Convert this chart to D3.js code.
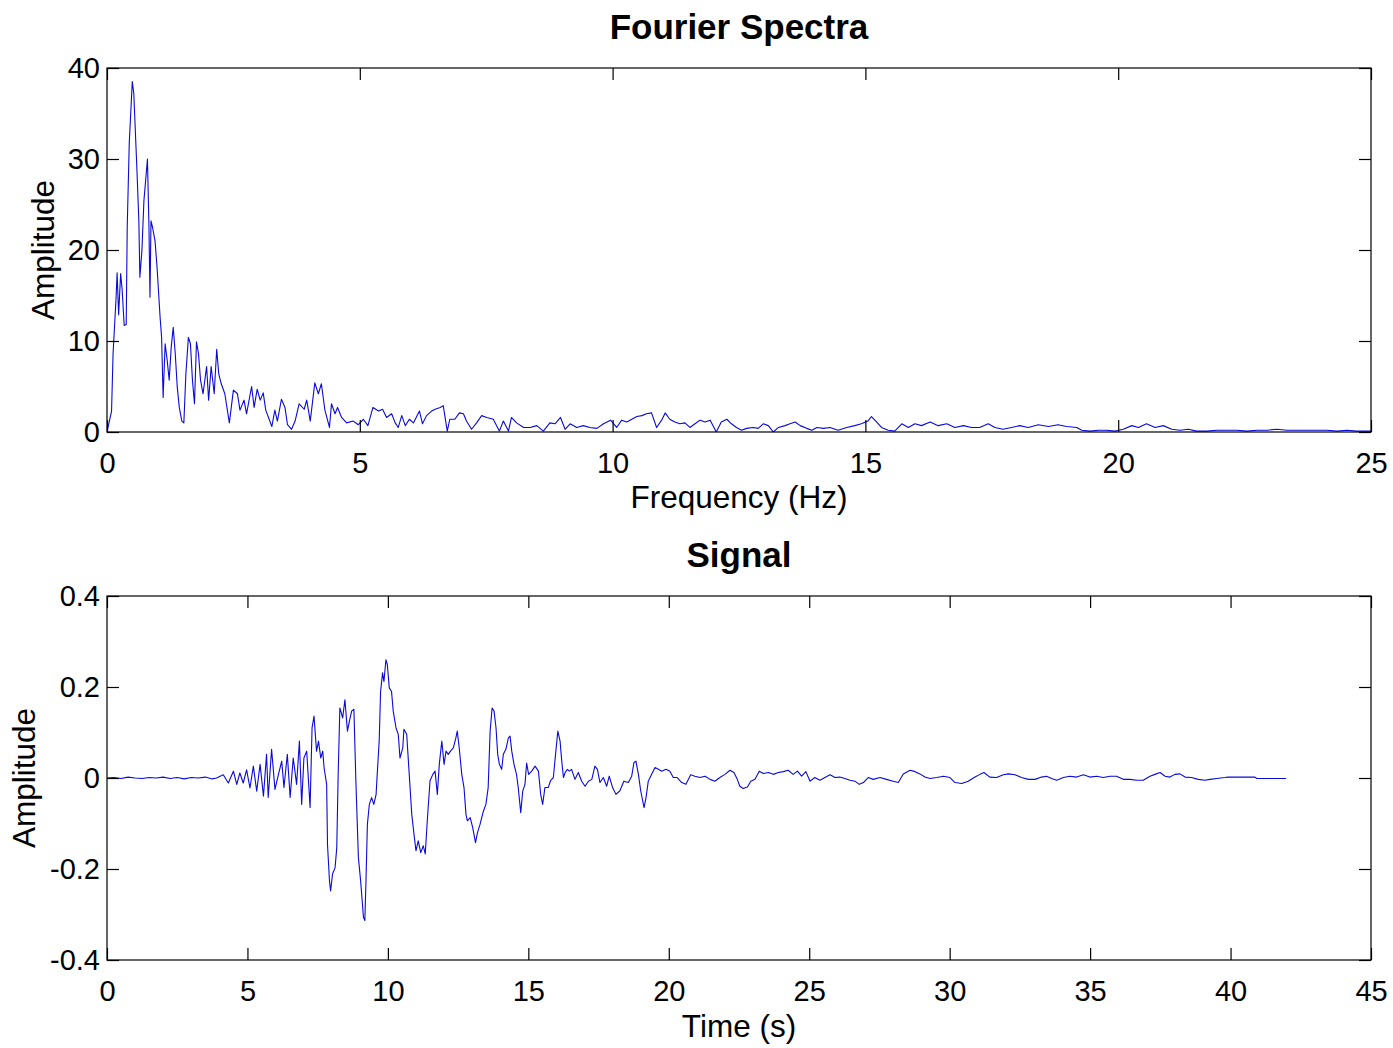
<!DOCTYPE html>
<html>
<head>
<meta charset="utf-8">
<script src="https://cdn.jsdelivr.net/npm/d3@7"></script>
<style>
  html, body { margin: 0; padding: 0; background: #fff; }
  svg { display: block; }
  text { font-family: "Liberation Sans", Arial, Helvetica, sans-serif; fill: #000; }
</style>
</head>
<body>
<svg id="chart" width="1393" height="1048"></svg>
<script>
// ---------- Data: Fourier spectrum ----------
const specFreq = [
  0, 0.09, 0.12, 0.18, 0.2, 0.23, 0.27, 0.3, 0.34, 0.38, 0.4, 0.44, 0.5, 0.53, 0.59, 0.63, 0.65, 0.69, 0.73, 0.8,
  0.83, 0.85, 0.87, 0.9, 0.95, 0.99, 1.05, 1.08, 1.11, 1.15, 1.19, 1.23, 1.27, 1.31, 1.35, 1.39, 1.43, 1.48, 1.52, 1.56,
  1.61, 1.65, 1.69, 1.73, 1.77, 1.81, 1.85, 1.9, 1.97, 2.01, 2.06, 2.12, 2.17, 2.21, 2.26, 2.33, 2.42, 2.5, 2.58, 2.63,
  2.71, 2.76, 2.86, 2.91, 2.97, 3.03, 3.09, 3.14, 3.26, 3.32, 3.37, 3.45, 3.52, 3.57, 3.65, 3.72, 3.8, 3.9, 3.95, 4.02,
  4.11, 4.18, 4.24, 4.31, 4.4, 4.44, 4.51, 4.56, 4.64, 4.74, 4.87, 4.97,
  5.07, 5.16, 5.26, 5.37, 5.45, 5.53, 5.63, 5.7, 5.76, 5.83, 5.9, 5.98, 6.06, 6.18, 6.24, 6.32, 6.42, 6.49, 6.59, 6.65,
  6.73, 6.78, 6.88, 6.97, 7.05, 7.11, 7.21, 7.31, 7.41, 7.51, 7.64, 7.76, 7.84, 7.94, 8.0, 8.1, 8.24, 8.37, 8.5, 8.63,
  8.76, 8.86, 8.97, 9.06, 9.16, 9.29, 9.42, 9.55, 9.69, 9.82, 9.96, 10.08, 10.18, 10.28, 10.38, 10.48, 10.58, 10.67, 10.77, 10.87,
  10.97, 11.04, 11.13, 11.23, 11.33, 11.43, 11.53, 11.63, 11.73, 11.83, 11.93, 12.05, 12.15, 12.26, 12.35, 12.45, 12.55, 12.65, 12.78, 12.88,
  12.98, 13.08, 13.18, 13.28, 13.41, 13.51, 13.61, 13.71, 13.84, 13.94, 14.04, 14.17, 14.3, 14.46, 14.63, 14.79, 14.92, 15.05, 15.12, 15.22,
  15.32, 15.45, 15.58, 15.72, 15.85, 15.98, 16.11, 16.28, 16.44, 16.61, 16.77, 16.94, 17.1, 17.26, 17.43, 17.56, 17.72, 17.89, 18.05, 18.22,
  18.42, 18.62, 18.81, 18.98, 19.18, 19.28, 19.44, 19.61, 19.77, 19.94, 20.1, 20.27, 20.4, 20.56, 20.73, 20.89, 21.06, 21.22, 21.39, 21.55,
  21.75, 21.95, 22.15, 22.35, 22.55, 22.74, 22.94, 23.14, 23.34, 23.53, 23.73, 23.93, 24.13, 24.33, 24.52, 24.72, 24.94, 25.0
];
const specAmp = [
  0, 2.3, 8.6, 14.8, 17.5, 12.9, 17.4, 15.6, 11.7, 11.8, 22.5, 31.7, 38.5, 37.2, 29.1, 23.2, 17.0, 19.9, 25.4, 30.0,
  22.5, 14.8, 23.2, 22.5, 21.0, 18.1, 12.6, 10.4, 3.8, 9.7, 7.9, 5.7, 9.3, 11.5, 8.6, 4.9, 2.7, 1.2, 1.0, 6.4,
  10.4, 9.7, 5.7, 3.1, 9.9, 8.6, 5.7, 4.2, 7.2, 3.5, 7.2, 4.2, 9.1, 6.4, 5.3, 4.2, 1.0, 4.6, 4.2, 2.4,
  3.5, 2.0, 5.0, 2.7, 4.7, 3.5, 4.3, 2.4, 0.6, 2.4, 1.2, 3.6, 2.7, 0.8, 0.3, 1.2, 3.1, 2.5, 3.5, 1.2,
  5.4, 4.2, 5.3, 2.4, 0.5, 3.1, 2.0, 2.7, 1.6, 1.0, 1.2, 0.8,
  1.4, 0.7, 2.7, 2.3, 2.5, 1.6, 2.0, 1.0, 0.5, 1.8, 0.7, 1.4, 1.0, 2.3, 0.9, 1.8, 2.3, 2.5, 2.7, 2.9,
  0.1, 1.4, 1.4, 2.1, 2.0, 1.2, 0.3, 1.0, 1.8, 1.6, 1.4, 0.1, 1.2, 0.1, 1.6, 1.0, 0.5, 0.5, 0.7, 0.1,
  1.0, 0.9, 1.6, 0.3, 0.9, 0.5, 0.7, 0.5, 0.4, 0.9, 1.3, 0.5, 1.3, 1.1, 1.4, 1.7, 1.8, 2.0, 2.1, 0.5,
  1.3, 2.1, 1.4, 1.1, 0.9, 1.0, 0.5, 0.9, 1.3, 1.1, 1.3, 0.0, 1.1, 1.4, 0.9, 0.5, 0.2, 0.4, 0.5, 0.4,
  0.9, 0.7, 0.0, 0.5, 0.7, 0.9, 1.1, 0.7, 0.4, 0.2, 0.5, 0.4, 0.5, 0.2, 0.5, 0.7, 0.9, 1.2, 1.7, 1.1,
  0.5, 0.2, 0.1, 0.9, 0.5, 0.9, 0.7, 1.1, 0.7, 0.9, 0.5, 0.7, 0.5, 0.5, 0.9, 0.5, 0.3, 0.5, 0.7, 0.5,
  0.8, 0.6, 0.8, 0.6, 0.5, 0.2, 0.1, 0.2, 0.2, 0.1, 0.3, 0.7, 0.5, 0.9, 0.5, 0.7, 0.3, 0.2, 0.3, 0.1,
  0.1, 0.2, 0.2, 0.2, 0.1, 0.2, 0.2, 0.3, 0.2, 0.2, 0.2, 0.2, 0.2, 0.1, 0.2, 0.1, 0.1, 0.1
];

// ---------- Data: time signal ----------
const sigTime = [
  0, 0.25, 0.5, 0.75, 1.0, 1.25, 1.5, 1.75, 2.0, 2.25, 2.5, 2.75, 3.0, 3.25, 3.5, 3.75, 3.9,
  4.14, 4.32, 4.5, 4.62, 4.73, 4.85, 4.97, 5.09, 5.21, 5.33, 5.45, 5.57, 5.68, 5.74, 5.86, 5.98, 6.1, 6.22, 6.3,
  6.42, 6.52, 6.63, 6.75, 6.85, 6.93, 7.01, 7.11, 7.23, 7.3, 7.37, 7.46, 7.53, 7.61, 7.68, 7.73, 7.82, 7.85, 7.92, 7.96,
  8.03, 8.12, 8.18, 8.23, 8.29, 8.39, 8.47, 8.56, 8.63, 8.71, 8.79, 8.86, 8.95, 9.03, 9.13, 9.18, 9.22, 9.27, 9.34, 9.42,
  9.5, 9.58, 9.62, 9.69, 9.74, 9.81, 9.86, 9.93, 9.98, 10.05, 10.13, 10.19, 10.29, 10.37, 10.43, 10.53, 10.57, 10.67, 10.76, 10.85,
  10.93, 11.0, 11.08, 11.17, 11.26, 11.33, 11.41, 11.5, 11.6, 11.68, 11.76, 11.83, 11.92, 12.0, 12.07, 12.15, 12.23, 12.33, 12.42, 12.47,
  12.54, 12.63, 12.71, 12.78, 12.83, 12.93, 13.02, 13.12, 13.19, 13.28, 13.4, 13.49, 13.57, 13.64, 13.71, 13.78, 13.85, 13.91, 13.97, 14.05,
  14.11, 14.2, 14.29, 14.35, 14.41, 14.49, 14.58, 14.64, 14.73, 14.8, 14.88, 14.94, 15.01, 15.12, 15.24, 15.36, 15.44, 15.51, 15.59, 15.71,
  15.79, 15.89, 15.98, 16.05, 16.13, 16.19, 16.25, 16.31, 16.39, 16.46,
  16.54, 16.66, 16.78, 16.9, 17.02, 17.14, 17.26, 17.37, 17.46, 17.55, 17.67, 17.79, 17.88, 18.0, 18.12, 18.26, 18.4, 18.56, 18.68, 18.76,
  18.83, 18.92, 19.0, 19.12, 19.19, 19.27, 19.39, 19.51, 19.63, 19.75, 19.9, 20.04, 20.16, 20.3, 20.46, 20.61, 20.78, 20.93, 21.11, 21.29,
  21.47, 21.64, 21.82, 22.0, 22.18, 22.32, 22.44, 22.53, 22.65, 22.8, 22.92, 23.07, 23.22, 23.37, 23.55, 23.72, 23.9, 24.08, 24.25, 24.43,
  24.58, 24.73, 24.88, 25.03, 25.2, 25.38, 25.56, 25.74, 25.92, 26.09, 26.27, 26.45, 26.63, 26.78,
  26.93, 27.1, 27.28, 27.52, 27.75, 27.99, 28.17, 28.35, 28.59, 28.77, 28.94, 29.12, 29.3, 29.54, 29.78, 30.01, 30.19, 30.43, 30.66, 30.9,
  31.08, 31.22, 31.43, 31.67, 31.91, 32.09, 32.33, 32.56, 32.8, 33.04, 33.27, 33.45, 33.63, 33.81, 34.05, 34.28, 34.52, 34.76, 34.99, 35.23,
  35.47, 35.71, 35.94, 36.18, 36.42, 36.66, 36.89, 37.13, 37.31, 37.49, 37.67, 37.84, 38.02, 38.2, 38.38, 38.61, 38.85, 39.09, 39.27, 39.5,
  39.8, 39.92, 40.87, 40.93, 41.98
];
const sigAmp = [
  0, 0.001, -0.001, 0.002, 0, -0.001, 0.001, 0, 0.002, -0.001, 0.001, -0.002, 0.001, 0, 0.002, -0.002, 0,
  0.007, -0.011, 0.015, -0.014, 0.011, -0.011, 0.018, -0.022, 0.026, -0.029, 0.03, -0.04, 0.052, -0.043, 0.063, -0.025, 0.007, 0.037, -0.021,
  0.052, -0.043, 0.044, -0.014, 0.081, -0.058, 0.044, 0.059, -0.065, 0.11, 0.136, 0.059, 0.081, 0.044, 0.059, 0.022, -0.014, -0.146, -0.226, -0.248,
  -0.211, -0.197, -0.153, 0.008, 0.154, 0.132, 0.172, 0.103, 0.125, 0.147, 0.151, -0.006, -0.175, -0.226, -0.306, -0.313, -0.226, -0.102, -0.058, -0.043,
  -0.058, -0.036, 0.008, 0.081, 0.19, 0.231, 0.212, 0.26, 0.249, 0.198, 0.19, 0.147, 0.11, 0.096, 0.044, 0.066, 0.107, 0.096, 0.008, -0.08,
  -0.124, -0.16, -0.138, -0.164, -0.149, -0.167, -0.087, -0.006, 0.008, 0.015, -0.036, 0.03, 0.081, 0.03, 0.059, 0.052, 0.059, 0.066, 0.088, 0.103,
  0.066, 0.008, -0.021, -0.08, -0.094, -0.087, -0.109, -0.142, -0.12, -0.102, -0.073, -0.058, -0.021, 0.103, 0.154, 0.147, 0.11, 0.052, 0.03, 0.019,
  0.052, 0.063, 0.088, 0.092, 0.059, 0.03, 0.008, -0.021, -0.076, -0.029, -0.014, 0.033, 0.008, 0.015, 0.026, 0.015, -0.036, -0.058, -0.021, -0.021,
  -0.006, 0.001, 0.059, 0.103, 0.081, 0.037, 0.001, 0.012, 0.019, 0.015,
  0.019, -0.003, 0.012, -0.007, -0.018, -0.007, -0.003, 0.026, 0.019, -0.01, 0.001, -0.018, 0.004, -0.021, -0.036, -0.028, -0.007, -0.01, 0.004, 0.034,
  0.037, 0.008, -0.028, -0.065, -0.043, -0.007, 0.008, 0.023, 0.019, 0.015, 0.019, 0.015, 0.001, 0.001, -0.01, -0.014, 0.007, 0.004, 0.001, 0.004,
  -0.003, -0.007, 0.001, 0.008, 0.017, 0.012, -0.003, -0.018, -0.023, -0.02, -0.007, -0.003, 0.015, 0.01, 0.012, 0.008, 0.012, 0.014, 0.017, 0.008,
  0.015, 0.004, 0.014, -0.007, 0.001, -0.005, 0.001, 0.007, 0.001, 0.002, -0.001, -0.005, -0.007, -0.014,
  -0.01, 0.001, -0.003, 0.001, -0.003, -0.007, -0.01, 0.009, 0.017, 0.014, 0.009, 0.002, -0.001, 0.001, 0.004, 0.001, -0.01, -0.012, -0.007, 0.002,
  0.008, 0.012, 0.002, 0.001, 0.007, 0.009, 0.007, 0.001, -0.003, -0.003, 0.002, 0.004, -0.001, -0.005, 0.001, 0.004, 0.002, 0.007, 0.002, 0.004,
  0.001, 0.004, 0.004, -0.003, -0.003, -0.005, -0.005, 0.004, 0.008, 0.012, 0.004, 0.002, 0.008, 0.009, 0.002, 0.001, -0.003, -0.005, -0.003, -0.001,
  0.001, 0.002, 0.002, -0.001, -0.001
];

// ---------- Tick labels ----------
const specXTicks = [0, 5, 10, 15, 20, 25];
const specYTicks = [0, 10, 20, 30, 40];
const sigXTicks = [0, 5, 10, 15, 20, 25, 30, 35, 40, 45];
const sigYTicks = [-0.4, -0.2, 0, 0.2, 0.4];
const sigYLabels = ["-0.4", "-0.2", "0", "0.2", "0.4"];

const svg = d3.select("#chart");
const LINE = "#0a0ad8";
const TICK_FS = 29, LABEL_FS = 31.5, TITLE_FS = 35;

function panel(cfg) {
  const g = svg.append("g");
  const x = d3.scaleLinear().domain(cfg.xDomain).range([cfg.left, cfg.right]);
  const y = d3.scaleLinear().domain(cfg.yDomain).range([cfg.bottom, cfg.top]);
  const tl = 12;

  const clipId = "clip" + cfg.id;
  svg.append("clipPath").attr("id", clipId).append("rect")
    .attr("x", cfg.left).attr("y", cfg.top)
    .attr("width", cfg.right - cfg.left).attr("height", cfg.bottom - cfg.top);
  const pts = cfg.xs.map((v, i) => [v, cfg.ys[i]]);
  g.append("path")
    .attr("clip-path", `url(#${clipId})`)
    .attr("d", d3.line().x(d => x(d[0])).y(d => y(d[1]))(pts))
    .attr("fill", "none").attr("stroke", LINE).attr("stroke-width", 1.1)
    .attr("stroke-linejoin", "round");

  g.append("rect").attr("x", cfg.left).attr("y", cfg.top)
    .attr("width", cfg.right - cfg.left).attr("height", cfg.bottom - cfg.top)
    .attr("fill", "none").attr("stroke", "#000").attr("stroke-width", 1.2);

  const xb = g.append("g").attr("transform", `translate(0,${cfg.bottom})`)
    .call(d3.axisBottom(x).tickValues(cfg.xTicks).tickSize(-tl).tickSizeOuter(0)
      .tickFormat(d3.format("d")));
  const xt = g.append("g").attr("transform", `translate(0,${cfg.top})`)
    .call(d3.axisTop(x).tickValues(cfg.xTicks).tickSize(-tl).tickSizeOuter(0).tickFormat(""));
  const yl = g.append("g").attr("transform", `translate(${cfg.left},0)`)
    .call(d3.axisLeft(y).tickValues(cfg.yTicks).tickSize(-tl).tickSizeOuter(0).tickPadding(7)
      .tickFormat((d, i) => cfg.yLabels[i]));
  const yr = g.append("g").attr("transform", `translate(${cfg.right},0)`)
    .call(d3.axisRight(y).tickValues(cfg.yTicks).tickSize(-tl).tickSizeOuter(0).tickFormat(""));
  [xb, xt, yl, yr].forEach(a => {
    a.select(".domain").remove();
    a.selectAll("line").attr("stroke", "#000").attr("stroke-width", 1.2);
    a.selectAll("text").attr("font-size", TICK_FS)
      .attr("font-family", '"Liberation Sans", Arial, Helvetica, sans-serif').attr("fill", "#000");
  });
  xb.selectAll("text").attr("y", 41).attr("dy", null);

  g.append("text").attr("x", (cfg.left + cfg.right) / 2).attr("y", cfg.titleY)
    .attr("text-anchor", "middle").attr("font-weight", "bold").attr("font-size", TITLE_FS)
    .text(cfg.title);
  g.append("text").attr("x", (cfg.left + cfg.right) / 2).attr("y", cfg.xLabelY)
    .attr("text-anchor", "middle").attr("font-size", LABEL_FS).text(cfg.xLabel);
  g.append("text")
    .attr("transform", `translate(${cfg.yLabelX},${(cfg.top + cfg.bottom) / 2}) rotate(-90)`)
    .attr("text-anchor", "middle").attr("font-size", LABEL_FS).text(cfg.yLabel);
}

panel({
  id: 1, left: 107, right: 1371, top: 68, bottom: 432,
  xDomain: [0, 25], yDomain: [0, 40],
  xs: specFreq, ys: specAmp,
  xTicks: specXTicks, yTicks: specYTicks, yLabels: specYTicks.map(String),
  title: "Fourier Spectra", titleY: 39,
  xLabel: "Frequency (Hz)", xLabelY: 508,
  yLabel: "Amplitude", yLabelX: 54
});

panel({
  id: 2, left: 107, right: 1371, top: 596, bottom: 960,
  xDomain: [0, 45], yDomain: [-0.4, 0.4],
  xs: sigTime, ys: sigAmp,
  xTicks: sigXTicks, yTicks: sigYTicks, yLabels: sigYLabels,
  title: "Signal", titleY: 567,
  xLabel: "Time (s)", xLabelY: 1037,
  yLabel: "Amplitude", yLabelX: 35
});
</script>
</body>
</html>
